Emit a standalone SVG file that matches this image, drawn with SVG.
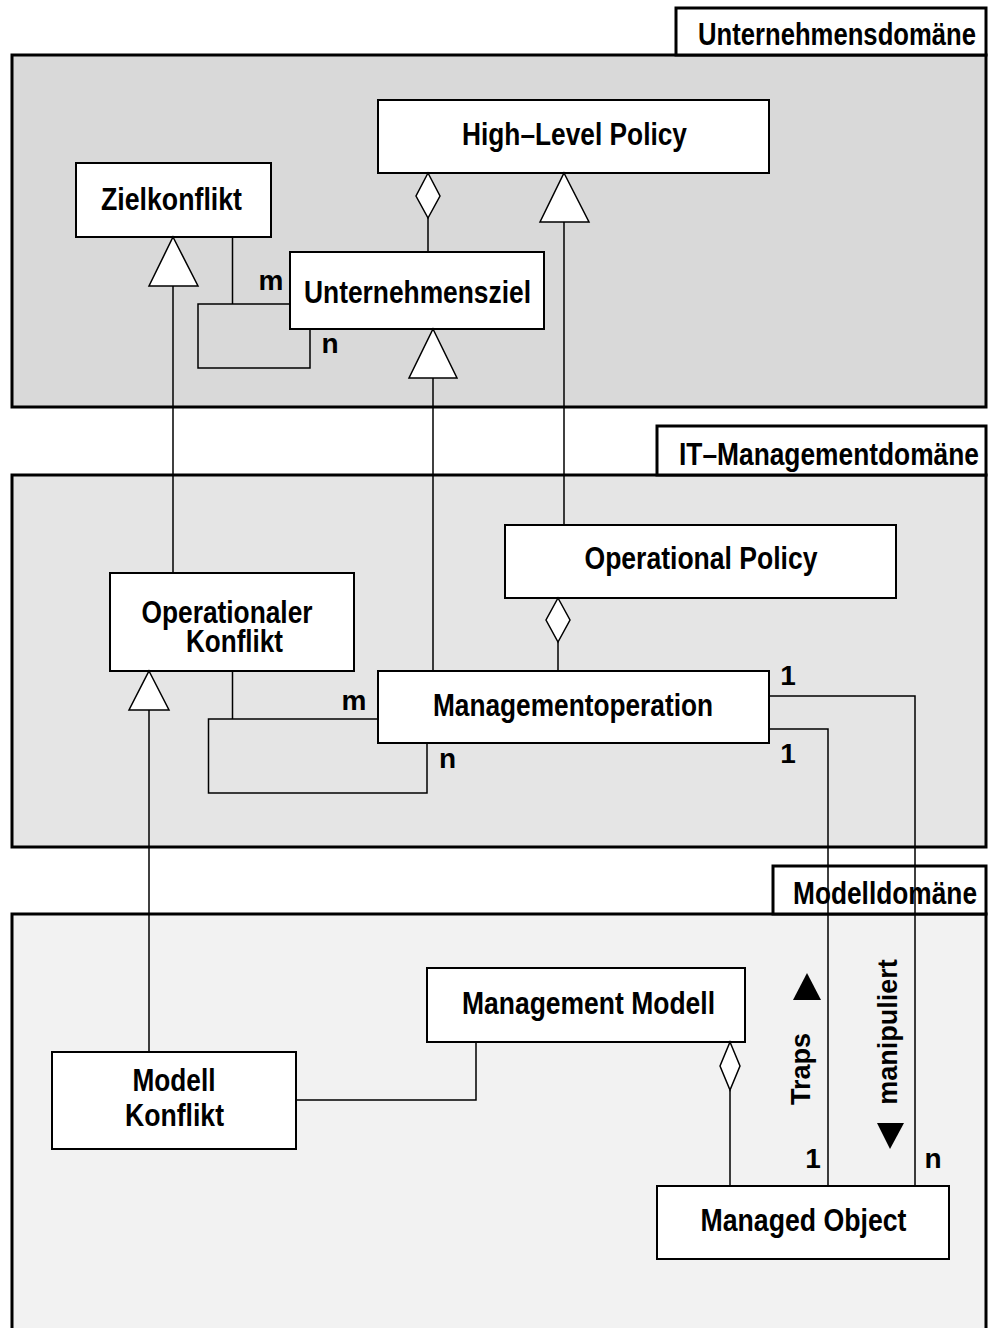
<svg xmlns="http://www.w3.org/2000/svg" width="988" height="1328" viewBox="0 0 988 1328">
<style>
  .dom { stroke: #000; stroke-width: 3; }
  .lbl { fill: #fff; stroke: #000; stroke-width: 3; }
  .node { fill: #fff; stroke: #000; stroke-width: 2; }
  .t { font-family: "Liberation Sans", Arial, Helvetica, sans-serif; font-weight: bold; font-size: 31px; fill: #000; text-anchor: middle; }
  .s { font-family: "Liberation Sans", Arial, Helvetica, sans-serif; font-weight: bold; font-size: 28px; fill: #000; text-anchor: middle; }
  .r { font-family: "Liberation Sans", Arial, Helvetica, sans-serif; font-weight: bold; font-size: 27px; fill: #000; text-anchor: middle; }
  .ln { fill: none; stroke: #000; stroke-width: 1.5; }
  .hollow { fill: #fff; stroke: #000; stroke-width: 1.5; }
  .solid { fill: #000; stroke: none; }
</style>

<g id="domain-unternehmen">
  <rect class="dom" x="12" y="55" width="974" height="352" fill="#d9d9d9"/>
  <rect class="lbl" x="676" y="8" width="310" height="47"/>
  <text class="t" x="837" y="45" textLength="278" lengthAdjust="spacingAndGlyphs">Unternehmensdomäne</text>
</g>
<g id="domain-it">
  <rect class="dom" x="12" y="475" width="974" height="372" fill="#e5e5e5"/>
  <rect class="lbl" x="657" y="426" width="329" height="49"/>
  <text class="t" x="829" y="465" textLength="300" lengthAdjust="spacingAndGlyphs">IT–Managementdomäne</text>
</g>
<g id="domain-modell">
  <rect class="dom" x="12" y="914" width="974" height="430" fill="#f2f2f2"/>
  <rect class="lbl" x="773" y="866" width="213" height="48"/>
  <text class="t" x="885" y="904" textLength="184" lengthAdjust="spacingAndGlyphs">Modelldomäne</text>
</g>

<g id="node-high-level-policy">
  <rect class="node" x="378" y="100" width="391" height="73"/>
  <text class="t" x="574.5" y="145" textLength="225" lengthAdjust="spacingAndGlyphs">High–Level Policy</text>
</g>
<g id="node-zielkonflikt">
  <rect class="node" x="76" y="163" width="195" height="74"/>
  <text class="t" x="171.5" y="210" textLength="141" lengthAdjust="spacingAndGlyphs">Zielkonflikt</text>
</g>
<g id="node-unternehmensziel">
  <rect class="node" x="290" y="252" width="254" height="77"/>
  <text class="t" x="417.5" y="303" textLength="227" lengthAdjust="spacingAndGlyphs">Unternehmensziel</text>
</g>
<g id="node-operational-policy">
  <rect class="node" x="505" y="525" width="391" height="73"/>
  <text class="t" x="701" y="569" textLength="233" lengthAdjust="spacingAndGlyphs">Operational Policy</text>
</g>
<g id="node-operationaler-konflikt">
  <rect class="node" x="110" y="573" width="244" height="98"/>
  <text class="t" x="227" y="623" textLength="171" lengthAdjust="spacingAndGlyphs">Operationaler</text>
  <text class="t" x="234.5" y="652" textLength="97" lengthAdjust="spacingAndGlyphs">Konflikt</text>
</g>
<g id="node-managementoperation">
  <rect class="node" x="378" y="671" width="391" height="72"/>
  <text class="t" x="573" y="716" textLength="280" lengthAdjust="spacingAndGlyphs">Managementoperation</text>
</g>
<g id="node-management-modell">
  <rect class="node" x="427" y="968" width="318" height="74"/>
  <text class="t" x="588.5" y="1014" textLength="253" lengthAdjust="spacingAndGlyphs">Management Modell</text>
</g>
<g id="node-modell-konflikt">
  <rect class="node" x="52" y="1052" width="244" height="97"/>
  <text class="t" x="174" y="1091" textLength="83" lengthAdjust="spacingAndGlyphs">Modell</text>
  <text class="t" x="174.5" y="1126" textLength="99" lengthAdjust="spacingAndGlyphs">Konflikt</text>
</g>
<g id="node-managed-object">
  <rect class="node" x="657" y="1186" width="292" height="73"/>
  <text class="t" x="803.5" y="1231" textLength="206" lengthAdjust="spacingAndGlyphs">Managed Object</text>
</g>

<g id="connectors">
  <!-- Unternehmensziel aggregated in High-Level Policy -->
  <path class="ln" d="M428,218 V252"/>
  <polygon class="hollow" points="428,173 440,196 428,218 416,196"/>
  <!-- Operational Policy generalizes to High-Level Policy -->
  <path class="ln" d="M564,222 V525"/>
  <polygon class="hollow" points="564,173 589,222 540,222"/>
  <!-- Operationaler Konflikt to Zielkonflikt -->
  <path class="ln" d="M173,286 V573"/>
  <polygon class="hollow" points="173,237 198,286 149,286"/>
  <!-- Zielkonflikt association loop -->
  <path class="ln" d="M232.5,237 V304 M290,304 H198 V368 H310 V329"/>
  <text class="s" x="271" y="290">m</text>
  <text class="s" x="330" y="353">n</text>
  <!-- Managementoperation to Unternehmensziel -->
  <path class="ln" d="M433,378 V671"/>
  <polygon class="hollow" points="433,329 457,378 409,378"/>
  <!-- Managementoperation aggregated in Operational Policy -->
  <path class="ln" d="M558,642 V671"/>
  <polygon class="hollow" points="558,598 570,620 558,642 546,620"/>
  <!-- Modell Konflikt to Operationaler Konflikt -->
  <path class="ln" d="M149,710 V1052"/>
  <polygon class="hollow" points="149,671 169,710 129,710"/>
  <!-- Operationaler Konflikt association loop -->
  <path class="ln" d="M232.5,671 V719 M378,719 H208.5 V793 H427 V743"/>
  <text class="s" x="354" y="710">m</text>
  <text class="s" x="447.5" y="768">n</text>
  <!-- Managementoperation to Managed Object -->
  <path class="ln" d="M769,696 H915 V1186"/>
  <path class="ln" d="M769,729 H828 V1186"/>
  <text class="s" x="788" y="685">1</text>
  <text class="s" x="788" y="763">1</text>
  <text class="s" x="813" y="1168">1</text>
  <text class="s" x="933" y="1168">n</text>
  <polygon class="solid" points="807,973 821,1000 793,1000"/>
  <text class="r" transform="translate(810,1069) rotate(-90)">Traps</text>
  <text class="r" transform="translate(897,1032) rotate(-90)">manipuliert</text>
  <polygon class="solid" points="877,1123 904,1123 890,1149"/>
  <!-- Modell Konflikt to Management Modell -->
  <path class="ln" d="M296,1100 H476 V1042"/>
  <!-- Managed Object aggregated in Management Modell -->
  <path class="ln" d="M730,1090 V1186"/>
  <polygon class="hollow" points="730,1042 740,1066 730,1090 720,1066"/>
</g>
</svg>
